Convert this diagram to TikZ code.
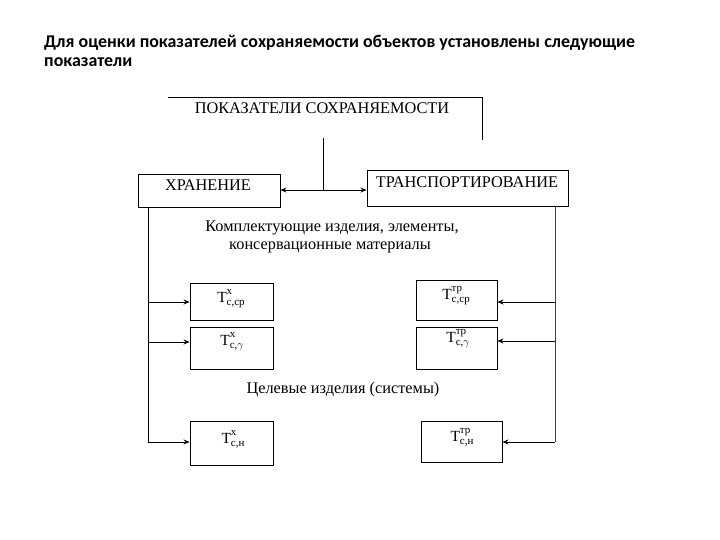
\documentclass[tikz,border=0pt]{standalone}
\usepackage{fontspec}
\usepackage{amsmath}
\setmainfont{Liberation Serif}
\newfontfamily\titlefont{Carlito}
\usetikzlibrary{arrows.meta}
\newcommand\tlab[2]{T\rlap{\raisebox{8pt}{\fontsize{11}{11}\selectfont #1}}\raisebox{-3pt}{\fontsize{11}{11}\selectfont #2}}
\tikzset{
  box/.style={draw, line width=0.9pt, inner sep=0pt, anchor=center},
  lbl/.style={inner sep=0pt, anchor=center, font=\fontsize{15.5}{17}\selectfont},
  txt/.style={inner sep=0pt, anchor=center, font=\fontsize{16.3}{18}\selectfont},
  conn/.style={line width=0.9pt},
  arr/.style={line width=0.9pt, -{Stealth[length=6pt,width=5pt]}},
  ttl/.style={anchor=west, inner sep=0pt, font=\titlefont\bfseries\fontsize{17.9}{19}\selectfont},
}
\begin{document}
\begin{tikzpicture}[x=1pt,y=-1pt]
\useasboundingbox (0,0) rectangle (720,540);
% title
\node[ttl] (t1) at (44,43) {Для оценки показателей сохраняемости объектов установлены следующие};
\node[ttl] (t2) at (44,62) {показатели};
% top
\node[txt] (pk) at (322,108) {ПОКАЗАТЕЛИ СОХРАНЯЕМОСТИ};
\coordinate (pkl) at (168,97);
\coordinate (pkr) at (482,97);
\coordinate (pkb) at (482,140);
\draw[conn] (pkl) -- (pkr) -- (pkb);
% main boxes
\node[box, minimum width=142pt, minimum height=33pt] (hr) at (209,190.5) {};
\node[txt] (hrt) at (208,185) {ХРАНЕНИЕ};
\node[box, minimum width=201pt, minimum height=36pt] (tr) at (467.5,188) {};
\node[txt] (trt) at (467,182) {ТРАНСПОРТИРОВАНИЕ};
\coordinate (vtop) at (323,138);
\coordinate (vj) at (323,190);
\draw[conn] (vtop) -- (vj);
\draw[line width=0.9pt, {Stealth[length=6pt,width=5pt]}-{Stealth[length=6pt,width=5pt]}] (hr.east |- vj) -- (tr.west |- vj);
% texts
\node[txt] (k1) at (332,228) {Комплектующие изделия, элементы,};
\node[txt] (k2) at (330,247) {консервационные материалы};
\node[txt] (cz) at (343,390) {Целевые изделия (системы)};
% lower boxes
\node[box, minimum width=83pt, minimum height=37pt] (l1) at (231.5,301.5) {};
\node[box, minimum width=83pt, minimum height=42pt] (l2) at (231.5,348) {};
\node[box, minimum width=83pt, minimum height=44pt] (l3) at (231.5,443) {};
\node[box, minimum width=81pt, minimum height=40pt] (r1) at (456.5,300) {};
\node[box, minimum width=81pt, minimum height=42pt] (r2) at (456.5,348) {};
\node[box, minimum width=81pt, minimum height=41pt] (r3) at (461.5,441.5) {};
\node[lbl] (l1t) at (231,299) {\tlab{x}{с,ср}};
\node[lbl] (l2t) at (232,342) {\tlab{x}{с,$\gamma$}};
\node[lbl] (l3t) at (233,439) {\tlab{x}{с,н}};
\node[lbl] (r1t) at (456,296) {\tlab{тр}{с,ср}};
\node[lbl] (r2t) at (458,338) {\tlab{тр}{с,$\gamma$}};
\node[lbl] (r3t) at (462,437) {\tlab{тр}{с,н}};
% left bus
\coordinate (lb1) at (148,302);
\coordinate (lb2) at (148,342);
\coordinate (lb3) at (148,442);
\draw[conn] (hr.south -| lb1) -- (lb3);
\draw[arr] (lb1) -- (l1.west |- lb1);
\draw[arr] (lb2) -- (l2.west |- lb2);
\draw[arr] (lb3) -- (l3.west |- lb3);
% right bus
\coordinate (rb1) at (555,302);
\coordinate (rb2) at (555,341);
\coordinate (rb3) at (555,442);
\draw[conn, black!75] (tr.south -| rb1) -- (rb3);
\draw[arr] (rb1) -- (r1.east |- rb1);
\draw[arr] (rb2) -- (r2.east |- rb2);
\draw[arr] (rb3) -- (r3.east |- rb3);
\end{tikzpicture}
\end{document}
